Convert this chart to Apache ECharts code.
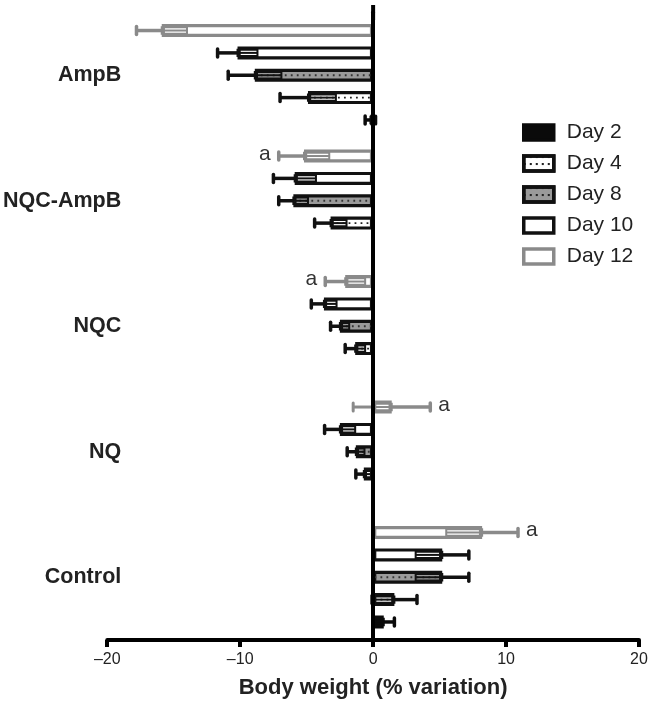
<!DOCTYPE html>
<html><head><meta charset="utf-8">
<script src="https://cdn.jsdelivr.net/npm/echarts@6/dist/echarts.min.js"></script>
<style>html,body{margin:0;padding:0;background:#fff}#c{width:653px;height:704px}</style>
</head><body><div id="c"></div>
<script>
// ---------- data (category order bottom -> top) ----------
const categories = ['Control', 'NQ', 'NQC', 'NQC-AmpB', 'AmpB'];
const days = ['Day 2', 'Day 4', 'Day 8', 'Day 10', 'Day 12'];
const day2Mean  = [0.8, 0, 0, 0, -0.2];
const day2Sd    = [0.8, 0, 0, 0, 0.4];
const day4Mean  = [1.6, -0.7, -1.35, -3.2, -4.9];
const day4Sd    = [1.7, 0.6, 0.75, 1.2, 2.1];
const day8Mean  = [5.2, -1.3, -2.5, -6.0, -8.9];
const day8Sd    = [2.0, 0.65, 0.7, 1.1, 2.0];
const day10Mean = [5.2, -2.5, -3.7, -5.9, -10.2];
const day10Sd   = [2.0, 1.15, 0.95, 1.6, 1.5];
const day12Mean = [8.2, 1.4, -2.1, -5.2, -15.9];
const day12Sd   = [2.7, 2.9, 1.5, 1.9, 1.9];
const day12Mark = ['a', 'a', 'a', 'a', ''];
const xTicks = [-20, -10, 0, 10, 20];

const means = [day2Mean, day4Mean, day8Mean, day10Mean, day12Mean];
const sds = [day2Sd, day4Sd, day8Sd, day10Sd, day12Sd];
const marks = [[], [], [], [], day12Mark];

// ---------- styles ----------
const dayStyle = [
  {fill: '#0a0a0a', border: '#0a0a0a', line: '#0a0a0a', dots: false},
  {fill: '#ffffff', border: '#111111', line: '#111111', dots: true, dotColor: '#222'},
  {fill: '#9a9a9a', border: '#111111', line: '#111111', dots: true, dotColor: '#333'},
  {fill: '#ffffff', border: '#111111', line: '#111111', dots: false},
  {fill: '#ffffff', border: '#8a8a8a', line: '#8a8a8a', dots: false}
];
const BAR_W = 13, GAP = 0.72;

const barSeries = [4, 3, 2, 1, 0].map(d => ({
  name: days[d], type: 'bar', yAxisIndex: 0,
  data: means[d],
  barWidth: BAR_W, barGap: (GAP * 100) + '%',
  itemStyle: {color: dayStyle[d].fill, borderColor: dayStyle[d].border, borderWidth: 3.2},
  emphasis: {disabled: true},
  silent: true
}));

const errData = [];
const errMarks = [];
for (let d = 0; d < 5; d++) {
  for (let c = 0; c < categories.length; c++) {
    errData.push([c, means[d][c], sds[d][c], d]);
    errMarks.push(marks[d][c] || '');
  }
}

function renderItem(params, api) {
  const cat = api.value(0), mean = api.value(1), sd = api.value(2), d = api.value(3);
  const pitch = BAR_W * (1 + GAP);
  const base = api.coord([0, cat]);
  const x0 = base[0];
  const yc = base[1] + (2 - d) * pitch;
  const X = v => api.coord([v, cat])[0];
  const xm = X(mean);
  const dir = mean < 0 ? -1 : 1;
  const st = dayStyle[d];
  const col = st.line;
  const ch = [];
  if (st.dots && Math.abs(xm - x0) > 2) {
    ch.push({type: 'line', shape: {x1: xm, y1: yc, x2: x0, y2: yc},
      style: {stroke: st.dotColor, lineWidth: 1.8, lineDash: [1.8, 4.2]}});
  }
  let xo = xm;
  if (sd > 0) {
    xo = X(mean + dir * sd);
    ch.push({type: 'line', shape: {x1: xm, y1: yc, x2: xo, y2: yc}, style: {stroke: col, lineWidth: 3.5}});
    ch.push({type: 'line', shape: {x1: xo, y1: yc - 4, x2: xo, y2: yc + 4}, style: {stroke: col, lineWidth: 3.5, lineCap: 'round'}});
    const innerV = mean - dir * sd;
    const crosses = innerV * dir < 0;
    const xi = crosses ? x0 : X(innerV);
    ch.push({type: 'rect', shape: {x: Math.min(xm, xi), y: yc - 3.2, width: Math.abs(xi - xm), height: 6.4},
      style: {fill: 'none', stroke: col, lineWidth: 2}});
    ch.push({type: 'line', shape: {x1: xm, y1: yc, x2: xi, y2: yc}, style: {stroke: col, lineWidth: 2}});
    if (crosses) {
      const xe = X(innerV);
      ch.push({type: 'line', shape: {x1: x0, y1: yc, x2: xe, y2: yc}, style: {stroke: col, lineWidth: 3}});
      ch.push({type: 'line', shape: {x1: xe, y1: yc - 4, x2: xe, y2: yc + 4}, style: {stroke: col, lineWidth: 3, lineCap: 'round'}});
    }
  }
  const m = errMarks[params.dataIndex];
  if (m) {
    ch.push({type: 'text', style: {text: m, x: xo + dir * 8, y: yc - 2,
      align: dir < 0 ? 'right' : 'left', verticalAlign: 'middle',
      fill: '#333', font: '21px "Liberation Sans", Arial, sans-serif'}});
  }
  return {type: 'group', children: ch};
}

const dotDecal = {symbol: 'rect', symbolSize: 1, dashArrayX: [2, 4], dashArrayY: [2, 5], color: '#222'};

const chart = echarts.init(document.getElementById('c'), null, {renderer: 'canvas'});
chart.setOption({
  animation: false,
  backgroundColor: '#fff',
  textStyle: {fontFamily: '"Liberation Sans", Arial, sans-serif'},
  grid: {left: 106, right: 14, top: 12.5, bottom: 64},
  legend: {
    orient: 'vertical', left: 522, top: 122, icon: 'rect', padding: 0,
    itemWidth: 30, itemHeight: 15, itemGap: 10,
    itemStyle: {borderWidth: 3.5},
    data: days.map((n, d) => (d === 1 || d === 2)
      ? {name: n, itemStyle: {decal: dotDecal, borderWidth: 3.5}}
      : {name: n}),
    textStyle: {fontSize: 21, color: '#222', padding: [0, 0, 0, 8]},
    selectedMode: false
  },
  xAxis: {
    type: 'value', min: xTicks[0], max: xTicks[xTicks.length - 1], interval: 10,
    splitLine: {show: false},
    axisLine: {show: true, onZero: false, lineStyle: {color: '#000', width: 4}},
    axisTick: {show: true, length: 7, lineStyle: {color: '#000', width: 4}},
    axisLabel: {fontSize: 16, color: '#222', margin: 12,
      formatter: v => String(v).replace('-', '\u2013')},
    name: 'Body weight (% variation)', nameLocation: 'middle', nameGap: 37,
    nameTextStyle: {fontSize: 22, fontWeight: 'bold', color: '#222'}
  },
  yAxis: [
    {type: 'category', data: categories, z: 10,
      axisLine: {show: true, onZero: true, lineStyle: {color: '#000', width: 4},
        symbol: ['none', 'rect'], symbolSize: [4, 15]},
      axisTick: {show: false}, axisLabel: {show: false}, splitLine: {show: false}},
    {type: 'category', data: categories, position: 'left',
      axisLine: {show: false}, axisTick: {show: false}, splitLine: {show: false},
      axisLabel: {fontSize: 21.5, fontWeight: 'bold', color: '#222', margin: -14}}
  ],
  series: barSeries.concat([{
    name: 'err', type: 'custom', yAxisIndex: 0, z: 5, silent: true,
    renderItem: renderItem, data: errData
  }])
});
</script></body></html>
